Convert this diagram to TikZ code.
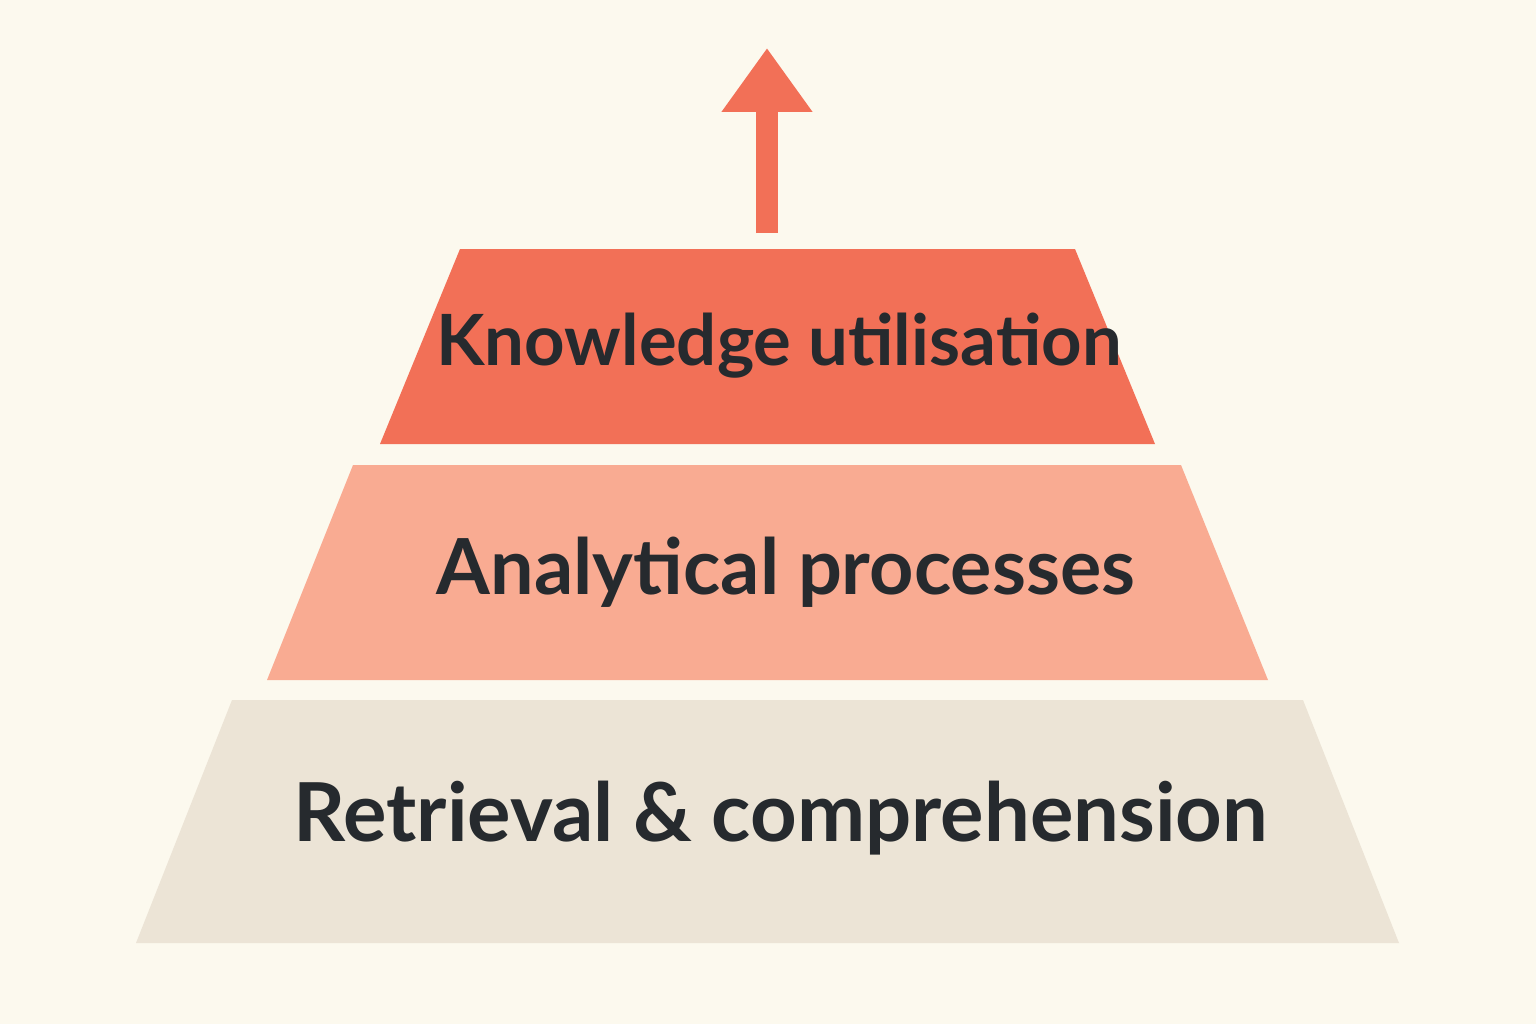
\documentclass[tikz,border=0pt]{standalone}
\usepackage{fontspec}
\setmainfont{Lato}
\usepackage{xcolor}
\usetikzlibrary{arrows.meta}
\definecolor{bgcream}{RGB}{252,249,238}
\definecolor{tiertop}{RGB}{242,112,87}
\definecolor{tiermid}{RGB}{249,171,146}
\definecolor{tierbase}{RGB}{236,228,214}
\definecolor{inkdark}{RGB}{38,42,46}
\begin{document}
\begin{tikzpicture}[x=0.75pt,y=0.75pt,yscale=-1,xscale=1,
  tierlabel/.style={text=inkdark,font=\bfseries,inner sep=0.75pt}]
% background
\fill[bgcream] (0,0) rectangle (1536,1024);
\useasboundingbox (0,0) rectangle (1536,1024);

%Shape: top tier
\fill[tiertop] (460,249) -- (1075,249) -- (1155,444) -- (380,444) -- cycle ;
%Shape: middle tier
\fill[tiermid] (353,465) -- (1181,465) -- (1268,680) -- (267,680) -- cycle ;
%Shape: base tier
\fill[tierbase] (232,700) -- (1303,700) -- (1399,943) -- (136,943) -- cycle ;

%Arrow
\coordinate (arrowbase) at (767,233);
\coordinate (arrowtip) at (767,48);
\draw[tiertop, line width=16.5pt, -{Triangle[length=48pt,width=65pt]}] (arrowbase) -- (arrowtip);

% Text Node
\node[tierlabel, font=\fontsize{53}{60}\selectfont\bfseries] (knowledge) at (779,346) {Knowledge utilisation};
% Text Node
\node[tierlabel, font=\fontsize{58}{66}\selectfont\bfseries] (analytical) at (786,572) {Analytical processes};
% Text Node
\node[tierlabel, font=\fontsize{61}{70}\selectfont\bfseries] (retrieval) at (781,818) {Retrieval \& comprehension};
\end{tikzpicture}
\end{document}
